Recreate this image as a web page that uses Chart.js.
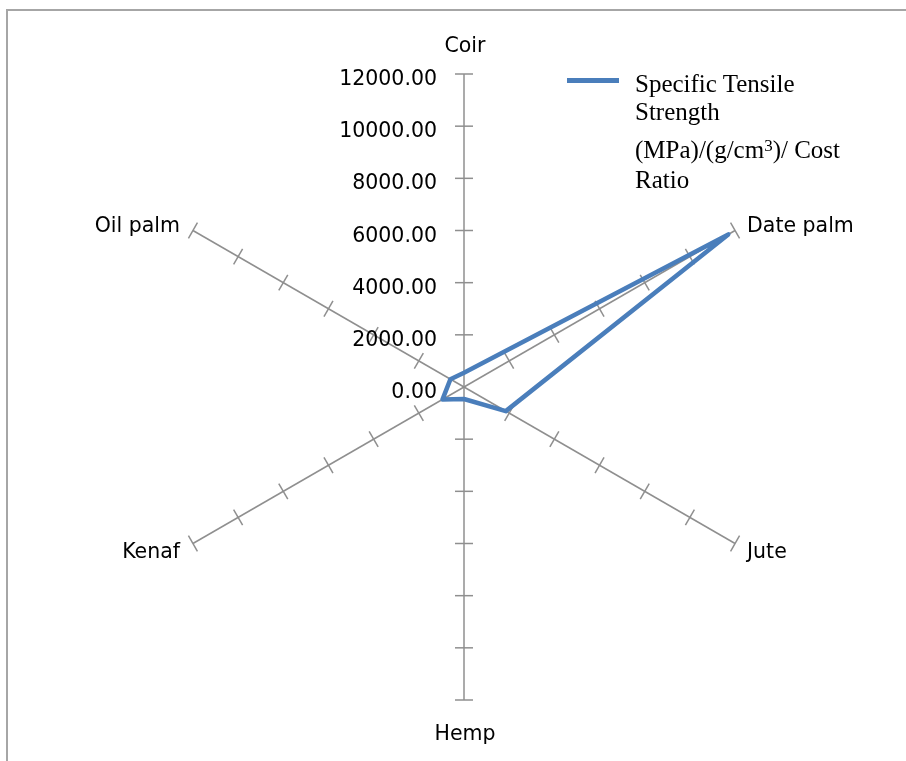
<!DOCTYPE html>
<html>
<head>
<meta charset="utf-8">
<script src="https://cdn.jsdelivr.net/npm/chart.js@4"></script>
<style>
html,body{margin:0;padding:0;background:#fff;overflow:hidden;width:906px;height:761px;}
#wrap{position:relative;width:906px;height:761px;}
#frame{position:absolute;left:6px;top:9px;width:1000px;height:1000px;border-left:2px solid #a6a6a6;border-top:2px solid #a6a6a6;}
#chart{position:absolute;left:0;top:0;}
#legend{position:absolute;left:0;top:0;width:906px;height:0;}
.lg-line{position:absolute;left:567px;top:78px;width:52px;height:5px;}
.lg-text{position:absolute;left:635px;font-family:'Liberation Serif','Times New Roman',serif;font-size:25px;line-height:25px;color:#000;white-space:nowrap;}
.lg-text sup{font-size:17px;vertical-align:baseline;position:relative;top:-7px;}
</style>
</head>
<body>
<div id="wrap">
  <div id="frame"></div>
  <canvas id="chart" width="906" height="761"></canvas>
  <div id="legend"></div>
</div>
<script>
// ---- data ----
const categories = ['Coir', 'Date palm', 'Jute', 'Hemp', 'Kenaf', 'Oil palm'];
const seriesName = 'Specific Tensile Strength (MPa)/(g/cm3)/ Cost Ratio';
const seriesValues = [550, 11700, 1850, 460, 950, 600];
const tickValues = [0, 2000, 4000, 6000, 8000, 10000, 12000];
const legendLines = ['Specific Tensile', 'Strength', '(MPa)/(g/cm3)/ Cost', 'Ratio'];

const seriesColor = '#4A7EBB';
const axisColor = '#8f8f8f';
const sansFont = '20.5px "DejaVu Sans", Verdana, sans-serif';

const axisDeco = {
  id: 'axisDeco',
  beforeDatasetsDraw(chart) {
    const s = chart.scales.r;
    const c = chart.ctx;
    c.save();
    // cross tick marks on every spoke
    c.strokeStyle = axisColor;
    c.lineWidth = 1.5;
    for (let i = 0; i < categories.length; i++) {
      const a = s.getIndexAngle(i) - Math.PI / 2;
      const nx = -Math.sin(a), ny = Math.cos(a);
      tickValues.forEach(v => {
        if (v === 0) return;
        const p = s.getPointPositionForValue(i, v);
        c.beginPath();
        c.moveTo(p.x - 9 * nx, p.y - 9 * ny);
        c.lineTo(p.x + 9 * nx, p.y + 9 * ny);
        c.stroke();
      });
    }
    // value labels left of the vertical axis
    c.fillStyle = '#000';
    c.font = sansFont;
    c.textAlign = 'right';
    c.textBaseline = 'alphabetic';
    tickValues.forEach(v => {
      const y = s.yCenter - s.getDistanceFromCenterForValue(v);
      c.fillText(v.toFixed(2), s.xCenter - 27, y + 11);
    });
    // category labels
    for (let i = 0; i < categories.length; i++) {
      const a = s.getIndexAngle(i) - Math.PI / 2;
      const cos = Math.cos(a), sin = Math.sin(a);
      const p = s.getPointPosition(i, s.drawingArea);
      let x, y, align;
      if (Math.abs(cos) < 0.1) {
        align = 'center';
        x = p.x + 1;
        y = p.y + (sin < 0 ? -29.5 : 32.5) + 7.5;
      } else {
        align = cos > 0 ? 'left' : 'right';
        x = p.x + (cos > 0 ? 12 : -13);
        y = p.y + sin * 13 + 7.5;
      }
      c.textAlign = align;
      c.fillText(categories[i], x, y);
    }
    c.restore();
  }
};

const htmlLegend = {
  id: 'htmlLegend',
  afterUpdate(chart) {
    const box = document.getElementById('legend');
    box.innerHTML = '';
    const ds = chart.data.datasets[0];
    const line = document.createElement('div');
    line.className = 'lg-line';
    line.style.background = ds.borderColor;
    box.appendChild(line);
    const tops = [70.8, 99.1, 137.1, 167.1];
    legendLines.forEach((t, k) => {
      const d = document.createElement('div');
      d.className = 'lg-text';
      d.style.top = tops[k] + 'px';
      d.innerHTML = t.replace('cm3', 'cm<sup>3</sup>');
      box.appendChild(d);
    });
  }
};

new Chart(document.getElementById('chart').getContext('2d'), {
  type: 'radar',
  data: {
    labels: categories,
    datasets: [{
      label: seriesName,
      data: seriesValues,
      borderColor: seriesColor,
      backgroundColor: 'rgba(0,0,0,0)',
      borderWidth: 4.5,
      borderJoinStyle: 'round',
      fill: false,
      tension: 0,
      pointRadius: 0,
      pointHoverRadius: 0
    }]
  },
  options: {
    responsive: false,
    animation: false,
    devicePixelRatio: 1,
    layout: { padding: { left: 151, right: 128, top: 74, bottom: 60 } },
    plugins: { legend: { display: false }, tooltip: { enabled: false } },
    scales: {
      r: {
        min: 0,
        max: 12000,
        ticks: { display: false, stepSize: 2000 },
        grid: { display: false },
        angleLines: { display: true, color: axisColor, lineWidth: 1.5 },
        pointLabels: { display: false }
      }
    }
  },
  plugins: [axisDeco, htmlLegend]
});
</script>
</body>
</html>
